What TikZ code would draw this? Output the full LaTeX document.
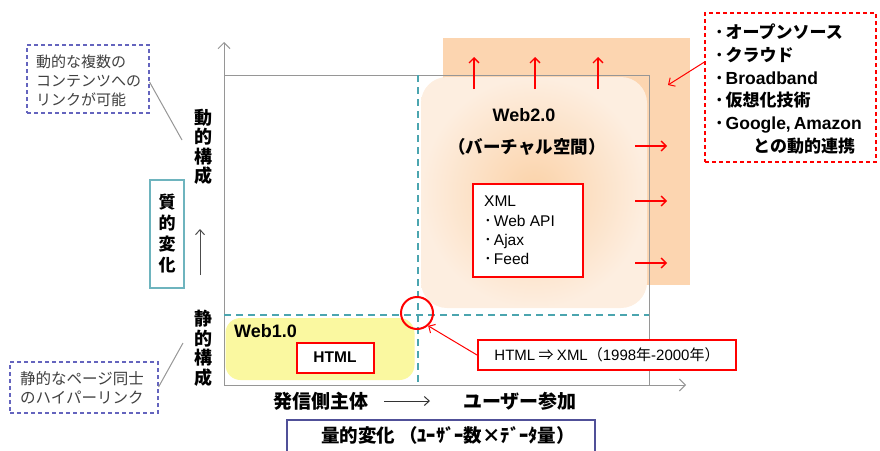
\documentclass[tikz,border=0pt]{standalone}
\usepackage{fontspec}
\setmainfont{Noto Sans CJK JP}
\newfontfamily\lat{Liberation Sans}
\usetikzlibrary{arrows.meta}
\definecolor{axisgray}{RGB}{150,150,150}
\definecolor{tealc}{RGB}{75,165,175}
\definecolor{purplec}{RGB}{100,100,190}
\definecolor{redc}{RGB}{255,0,0}
\definecolor{notetext}{RGB}{64,64,64}
\definecolor{orangeback}{RGB}{252,213,176}
\definecolor{webin}{RGB}{251,210,168}
\definecolor{webout}{RGB}{253,238,224}
\definecolor{yellowc}{RGB}{250,248,160}
\definecolor{qualbox}{RGB}{110,180,190}
\newcommand{\bul}{･\hspace{2pt}}
\begin{document}
\begin{tikzpicture}[x=1pt,y=-1pt,
  axis/.style={draw=axisgray,line width=1pt,-{Straight Barb[length=6pt,width=12pt]}},
  redarrow/.style={draw=redc,line width=1.3pt,-{Straight Barb[length=5pt,width=10pt]}},
  tealdash/.style={draw=tealc,line width=1.3pt,dash pattern=on 7pt off 5pt},
  notebox/.style={draw=purplec,line width=1.1pt,dash pattern=on 4pt off 3pt,fill=white,inner sep=0pt},
  notetxt/.style={anchor=west,inner sep=0pt,align=left,text=notetext,font=\fontsize{15}{19}\selectfont},
  redbox/.style={draw=redc,line width=2pt,fill=white,inner sep=0pt},
  vlabel/.style={align=center,inner sep=0pt,font=\fontsize{18}{19.5}\selectfont\bfseries},
  hlabel/.style={inner sep=0pt,font=\fontsize{19}{21}\selectfont\bfseries}
]
\useasboundingbox (0,0) rectangle (880,450);

% orange background region
\node[fill=orangeback,minimum width=247pt,minimum height=247pt,inner sep=0pt] (oback) at (566.5,161.5) {};

% frame and axes
\coordinate (origin) at (224,385);
\coordinate (ytip) at (224,42);
\coordinate (xtip) at (686,385);
\coordinate (ftl) at (224,75);
\coordinate (ftr) at (649,75);
\coordinate (fbr) at (649,385);
\draw[draw=axisgray,line width=1pt] (ftl) -- (ftr) -- (fbr);
\draw[axis] (origin) -- (ytip);
\draw[axis] (origin) -- (xtip);

% Web2.0 region
\node[rounded corners=26pt,inner color=webin,outer color=webout,minimum width=226pt,minimum height=231pt,inner sep=0pt] (web2) at (534,192.5) {};
\node[inner sep=0pt,font=\lat\fontsize{18}{20}\selectfont\bfseries] (web2t) at (524,115) {Web2.0};
\node[inner sep=0pt,font=\fontsize{17.5}{20}\selectfont\bfseries] (virt) at (527,147) {（バーチャル空間）};

% dashed teal lines
\coordinate (vd1) at (418,75);
\coordinate (vd2) at (418,385);
\coordinate (hd1) at (224,315);
\coordinate (hd2) at (649,315);
\draw[tealdash] (vd1) -- (vd2);
\draw[tealdash] (hd1) -- (hd2);

% Web1.0 region
\node[fill=yellowc,rounded corners=15pt,minimum width=189pt,minimum height=62pt,inner sep=0pt] (web1) at (320,349) {};
\node[inner sep=0pt,anchor=west,font=\lat\fontsize{18}{20}\selectfont\bfseries] (web1t) at (234,331) {Web1.0};
\node[redbox,minimum width=77pt,minimum height=30pt,font=\lat\fontsize{15.5}{18}\selectfont\bfseries] (html) at (335,357.5) {HTML};

% XML box
\node[redbox,minimum width=110pt,minimum height=93pt] (xml) at (528,230.5) {};
\node[anchor=north west,inner sep=0pt,align=left,font=\fontsize{15.5}{19.3}\selectfont] (xmlt) at (484,196) {{\lat XML}\\\bul{\lat Web API}\\\bul{\lat Ajax}\\\bul{\lat Feed}};

% red arrows up
\coordinate (u1a) at (474,89); \coordinate (u1b) at (474,57);
\coordinate (u2a) at (535,89); \coordinate (u2b) at (535,57);
\coordinate (u3a) at (598,89); \coordinate (u3b) at (598,57);
\draw[redarrow] (u1a) -- (u1b);
\draw[redarrow] (u2a) -- (u2b);
\draw[redarrow] (u3a) -- (u3b);
% red arrows right
\coordinate (r1a) at (635,146); \coordinate (r1b) at (667,146);
\coordinate (r2a) at (635,201); \coordinate (r2b) at (667,201);
\coordinate (r3a) at (635,263); \coordinate (r3b) at (667,263);
\draw[redarrow] (r1a) -- (r1b);
\draw[redarrow] (r2a) -- (r2b);
\draw[redarrow] (r3a) -- (r3b);

% bullet list box
\node[draw=redc,line width=1.1pt,dash pattern=on 4pt off 3pt,fill=white,minimum width=171pt,minimum height=149pt,inner sep=0pt] (list) at (790.5,87.5) {};
\node[anchor=west,inner sep=0pt,align=left,font=\fontsize{17}{22.8}\selectfont\bfseries] (listt) at (715,89) {\bul オープンソース\\\bul クラウド\\\bul{\lat\fontsize{17.5}{22.8}\selectfont Broadband}\\\bul 仮想化技術\\\bul{\lat\fontsize{17.5}{22.8}\selectfont Google,\,Amazon}\\\hspace*{38pt}との動的連携};
\coordinate (ltip) at (668,85);
\draw[redarrow,line width=1pt] (list.west |- 0,62) -- (ltip);

% red circle and HTML=>XML
\node[draw=redc,line width=2pt,circle,minimum size=32pt,inner sep=0pt] (circ) at (417,313) {};
\node[redbox,minimum width=258pt,minimum height=30pt,font=\fontsize{15}{18}\selectfont] (hx) at (607,355) {{\lat HTML} ⇒ {\lat XML}（{\lat 1998}年{\lat -2000}年）};
\draw[redarrow,line width=1pt] (hx.west) -- (circ.-49);

% vertical axis labels
\node[vlabel] (dyn) at (203,147) {動\\的\\構\\成};
\node[vlabel] (stat) at (203,348.5) {静\\的\\構\\成};
\node[draw=qualbox,line width=1.2pt,minimum width=34pt,minimum height=108pt,inner sep=0pt,align=center,font=\fontsize{17}{21}\selectfont\bfseries] (qual) at (167,234) {質\\的\\変\\化};
\coordinate (qa1) at (200,275);
\coordinate (qa2) at (200,229);
\draw[draw=black!70,line width=1pt,-{Straight Barb[length=5pt,width=9pt]}] (qa1) -- (qa2);

% notes
\node[notebox,minimum width=122pt,minimum height=68pt] (note1) at (88,79) {};
\node[notetxt] (note1t) at (36,81) {動的な複数の\\コンテンツへの\\リンクが可能};
\coordinate (n1end) at (182,140);
\draw[draw=axisgray,line width=1pt] (note1.east |- 0,82) -- (n1end);

\node[notebox,minimum width=148pt,minimum height=51pt] (note2) at (84,387.5) {};
\node[notetxt,font=\fontsize{15.5}{19}\selectfont] (note2t) at (20,387.5) {静的なページ同士\\のハイパーリンク};
\coordinate (n2end) at (183,343);
\draw[draw=axisgray,line width=1pt] (note2.east |- 0,387) -- (n2end);

% horizontal labels
\node[hlabel] (sender) at (321,401) {発信側主体};
\node[hlabel] (user) at (520,401) {ユーザー参加};
\coordinate (ha1) at (384,401);
\coordinate (ha2) at (430,401);
\draw[draw=black!80,line width=1pt,-{Straight Barb[length=5pt,width=9pt]}] (ha1) -- (ha2);

% quantity box
\node[draw=purplec!80!black,line width=1.2pt,fill=white,minimum width=308pt,minimum height=40pt,inner sep=0pt] (quant) at (441,440) {};
\node[inner sep=0pt,font=\fontsize{18.5}{20}\selectfont\bfseries] (quantt) at (448,435) {量的変化\ （ﾕｰｻﾞｰ数×ﾃﾞｰﾀ量）};
\end{tikzpicture}
\end{document}
